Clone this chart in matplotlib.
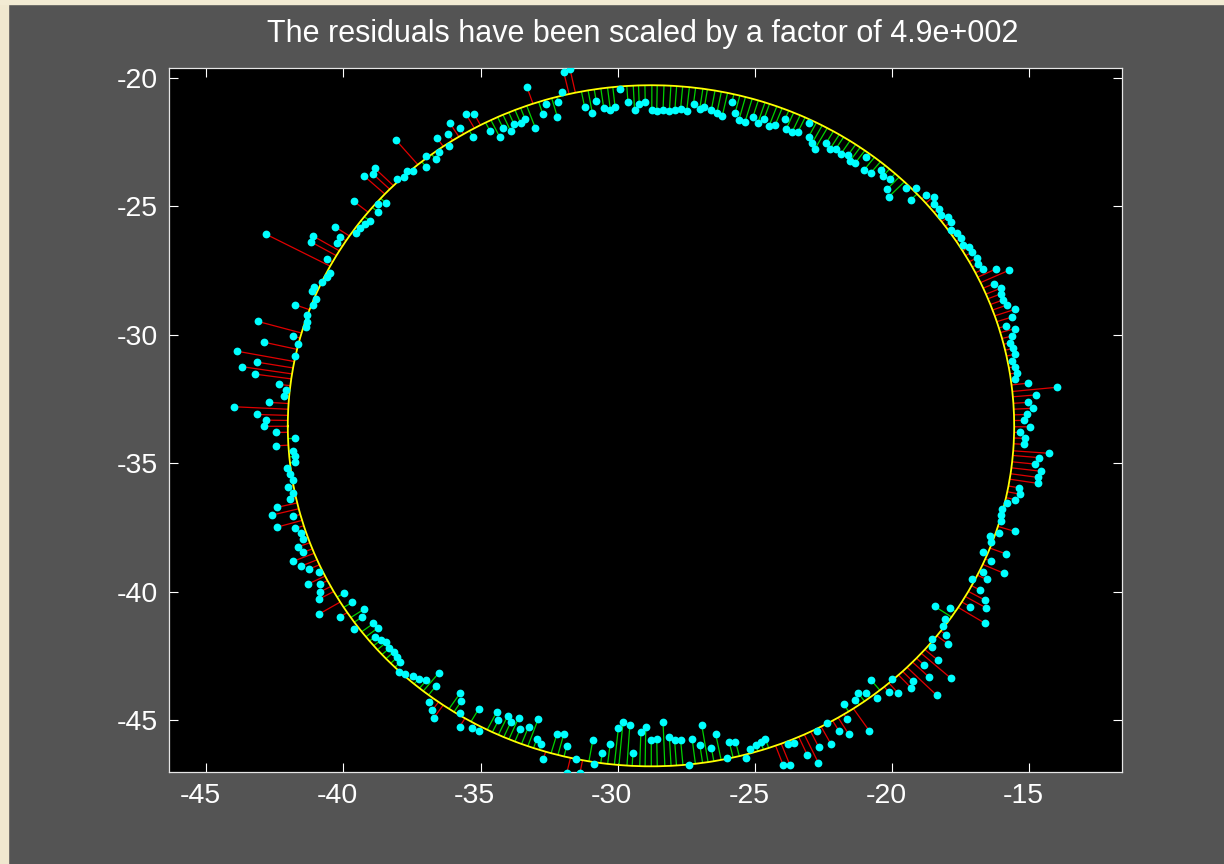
import matplotlib
matplotlib.use('Agg')
import matplotlib.pyplot as plt
import numpy as np
from matplotlib.collections import LineCollection
from matplotlib.patches import Rectangle
from matplotlib.transforms import ScaledTranslation

title = "The residuals have been scaled by a factor of 4.9e+002"
x_ticks = [-45, -40, -35, -30, -25, -20, -15]
y_ticks = [-20, -25, -30, -35, -40, -45]
x_limits = [-46.36, -11.62]
y_limits = [-47.02, -19.63]
ellipse_center = [-28.79, -33.55]
ellipse_axes = [13.24, 13.25]

pts_x = [
    -42.82, -41.12, -41.18, -40.31, -40.12, -40.24, -40.61, -40.49, -40.59, -40.77,
    -41.07, -41.15, -41.01, -41.12, -41.77, -39.62, -38.73, -38.45, -38.74, -39.03,
    -39.21, -39.39, -39.56, -39.26, -38.91, -38.86, -38.06, -37.79, -37.68, -37.46,
    -38.10, -36.99, -36.99, -36.64, -36.52, -36.58, -36.18, -36.17, -36.12, -35.76,
    -35.53, -35.23, -35.28, -34.66, -34.30, -34.19, -33.91, -33.78, -33.54, -33.38,
    -33.01, -33.31, -32.73, -32.62, -32.20, -32.17, -32.03, -31.97, -31.74, -31.21,
    -30.93, -30.79, -30.51, -30.27, -30.10, -29.93, -29.63, -29.39, -29.22, -29.00,
    -28.76, -28.58, -28.35, -28.12, -27.92, -27.71, -27.49, -27.24, -27.01, -26.84,
    -26.59, -26.39, -26.19, -25.84, -25.72, -25.59, -25.36, -25.08, -24.90, -24.67,
    -24.49, -24.26, -23.90, -23.86, -23.65, -23.44, -23.04, -23.04, -22.91, -22.81,
    -22.40, -22.26, -22.05, -21.86, -21.61, -21.53, -21.35, -20.96, -21.02, -20.77,
    -20.41, -20.32, -20.07, -20.19, -20.12, -19.48, -19.13, -19.32, -18.77, -18.49,
    -18.49, -18.30, -18.21, -17.97, -17.85, -17.84, -17.62, -17.48, -17.42, -17.21,
    -17.09, -16.92, -16.86, -16.67, -16.22, -15.74, -16.28, -16.04, -16.04, -15.97,
    -15.80, -15.52, -15.63, -15.86, -15.52, -15.64, -15.70, -15.58, -15.52, -15.64,
    -15.51, -15.44, -15.51, -15.05, -13.98, -14.76, -15.05, -14.87, -15.10, -15.21,
    -14.99, -15.33, -15.16, -15.21, -14.28, -14.63, -14.80, -14.57, -14.67, -14.69,
    -15.39, -15.33, -15.51, -15.80, -15.98, -16.04, -16.04, -15.52, -16.11, -16.45,
    -16.39, -16.68, -15.86, -16.39, -16.68, -15.92, -16.55, -17.09, -16.79, -16.62,
    -16.56, -17.15, -18.44, -17.90, -16.62, -18.08, -18.14, -18.02, -17.96, -18.55,
    -18.56, -18.32, -18.84, -17.85, -18.66, -19.25, -19.31, -18.38, -20.00, -20.77,
    -19.77, -20.12, -20.94, -21.23, -21.34, -20.54, -21.77, -21.64, -20.83, -22.38,
    -21.94, -21.58, -22.75, -22.22, -22.67, -23.09, -22.69, -23.56, -23.80, -23.97,
    -23.72, -24.62, -24.79, -24.97, -25.19, -25.32, -25.71, -25.94, -26.02, -26.43,
    -26.59, -26.94, -27.01, -27.29, -27.41, -27.71, -27.93, -28.12, -28.35, -28.58,
    -28.78, -28.98, -29.16, -29.45, -29.56, -29.81, -29.98, -30.28, -30.57, -30.87,
    -30.91, -31.38, -31.52, -31.86, -31.86, -31.97, -32.22, -32.72, -32.79, -32.95,
    -32.90, -33.25, -33.56, -33.61, -33.90, -34.01, -34.35, -34.41, -35.06, -35.30,
    -35.06, -35.76, -35.76, -35.70, -35.75, -36.52, -36.64, -36.70, -36.76, -36.87,
    -36.98, -37.26, -37.46, -37.74, -37.97, -37.93, -38.04, -38.16, -38.33, -38.44,
    -38.63, -38.85, -38.74, -38.91, -39.62, -39.32, -39.26, -40.13, -40.90, -39.68,
    -39.97, -40.90, -40.85, -40.85, -41.30, -40.90, -41.24, -41.54, -41.83, -41.47,
    -41.66, -41.47, -41.54, -41.77, -42.41, -41.83, -42.59, -42.41, -41.95, -41.83,
    -42.01, -41.83, -41.95, -42.07, -41.77, -41.78, -41.83, -42.47, -41.78, -42.47,
    -42.89, -42.82, -43.17, -43.99, -42.70, -42.17, -42.10, -42.35, -43.23, -43.70,
    -43.17, -41.77, -43.87, -42.89, -41.66, -41.83, -41.36, -41.32, -43.12, -41.32,
]

pts_y = [
    -26.10, -26.16, -26.40, -25.81, -26.21, -26.45, -27.05, -27.62, -27.77, -27.96,
    -28.14, -28.31, -28.62, -28.85, -28.84, -24.82, -24.93, -24.88, -25.23, -25.58,
    -25.70, -25.87, -26.05, -23.82, -23.77, -23.53, -23.95, -23.88, -23.64, -23.64,
    -22.42, -23.07, -23.47, -23.18, -22.90, -22.37, -22.20, -22.67, -21.78, -21.96,
    -21.43, -21.43, -22.30, -22.07, -22.32, -21.95, -22.07, -21.82, -21.78, -21.61,
    -21.95, -20.38, -21.43, -21.03, -21.54, -20.96, -20.56, -19.80, -19.68, -21.14,
    -21.37, -20.90, -21.20, -21.26, -21.14, -20.44, -20.96, -21.26, -21.02, -20.96,
    -21.26, -21.30, -21.26, -21.32, -21.26, -21.21, -21.32, -21.02, -21.21, -21.14,
    -21.26, -21.39, -21.49, -20.96, -21.37, -21.67, -21.72, -21.55, -21.78, -21.61,
    -21.90, -21.84, -21.61, -22.00, -22.13, -22.13, -21.78, -22.30, -22.54, -22.77,
    -22.54, -22.77, -22.77, -22.96, -23.02, -23.24, -23.33, -23.11, -23.59, -23.70,
    -23.60, -23.82, -23.94, -24.35, -24.64, -24.29, -24.29, -24.75, -24.58, -24.64,
    -24.93, -25.11, -25.35, -25.44, -25.63, -25.93, -26.04, -26.26, -26.51, -26.61,
    -26.80, -27.02, -27.26, -27.45, -27.45, -27.50, -28.02, -28.20, -28.42, -28.66,
    -28.85, -29.02, -29.32, -29.67, -29.77, -30.06, -30.32, -30.54, -30.77, -31.02,
    -31.25, -31.49, -31.72, -31.89, -32.05, -32.35, -32.64, -32.87, -33.11, -33.34,
    -33.59, -33.81, -34.04, -34.27, -34.62, -34.79, -35.04, -35.32, -35.56, -35.79,
    -35.96, -36.21, -36.42, -36.55, -36.79, -37.02, -37.26, -37.66, -37.71, -37.84,
    -38.09, -38.47, -38.53, -38.82, -39.23, -39.29, -39.53, -39.53, -39.94, -40.33,
    -40.64, -40.59, -40.58, -40.64, -41.23, -41.08, -41.34, -41.69, -42.04, -41.86,
    -42.16, -42.68, -42.85, -43.38, -43.32, -43.49, -43.74, -44.03, -43.39, -43.44,
    -43.96, -43.91, -43.96, -43.96, -44.21, -44.14, -44.38, -44.96, -45.42, -45.13,
    -45.42, -45.55, -45.42, -45.95, -46.06, -46.36, -46.66, -45.90, -45.95, -46.76,
    -46.76, -45.73, -45.84, -45.96, -46.13, -46.48, -45.84, -45.84, -46.48, -45.55,
    -46.08, -45.19, -45.96, -45.73, -46.76, -45.78, -45.78, -45.66, -45.08, -45.73,
    -45.78, -45.26, -45.48, -46.30, -45.18, -45.08, -45.31, -45.95, -46.30, -46.71,
    -45.78, -47.06, -46.53, -47.06, -46.01, -45.55, -45.55, -46.53, -45.95, -45.73,
    -44.96, -45.25, -45.36, -44.90, -45.08, -44.83, -45.01, -44.68, -45.43, -45.32,
    -44.55, -45.25, -44.72, -44.26, -43.96, -43.16, -43.69, -44.90, -44.61, -44.31,
    -43.46, -43.40, -43.28, -43.21, -43.14, -42.75, -42.56, -42.34, -42.21, -41.98,
    -41.88, -41.76, -41.41, -41.24, -41.46, -40.99, -40.69, -40.99, -40.88, -40.42,
    -40.06, -40.30, -40.01, -39.71, -39.71, -39.24, -39.12, -39.01, -38.82, -38.47,
    -38.26, -37.96, -37.72, -37.54, -37.49, -37.07, -37.02, -36.72, -36.39, -36.15,
    -35.92, -35.67, -35.43, -35.21, -34.97, -34.74, -34.52, -34.33, -34.04, -33.81,
    -33.57, -33.33, -33.11, -32.81, -32.64, -32.40, -32.17, -31.94, -31.54, -31.25,
    -31.07, -30.84, -30.65, -30.30, -30.37, -30.07, -29.72, -29.50, -29.49, -29.24,
]

# ---- derived geometry: foot of each point on the fitted ellipse ----
px = np.asarray(pts_x)
py = np.asarray(pts_y)
cx, cy = ellipse_center
a, b = ellipse_axes
u = (px - cx) / a
v = (py - cy) / b
theta = np.arctan2(v, u)
fx = cx + a * np.cos(theta)
fy = cy + b * np.sin(theta)
outside = (u ** 2 + v ** 2) > 1.0

fig = plt.figure(figsize=(12.24, 8.64), dpi=100, facecolor='#545454')
# window border strips of the screenshot
fig.add_artist(Rectangle((0, 0), 8 / 1224, 1, transform=fig.transFigure,
                         color='#f0e8cf', zorder=0))
fig.add_artist(Rectangle((0, 1 - 4 / 864), 1, 4 / 864, transform=fig.transFigure,
                         color='#f2ebd3', zorder=0))

ax = fig.add_axes([169 / 1224, 1 - 772 / 864, (1122 - 169) / 1224, (772 - 68) / 864])
ax.set_facecolor('black')

seg_out = [[(px[i], py[i]), (fx[i], fy[i])] for i in range(len(px)) if outside[i]]
seg_in = [[(px[i], py[i]), (fx[i], fy[i])] for i in range(len(px)) if not outside[i]]
ax.add_collection(LineCollection(seg_out, colors='#e00000', linewidths=0.9, zorder=2))
ax.add_collection(LineCollection(seg_in, colors='#00d000', linewidths=0.9, zorder=2))

order = np.argsort(theta)
ex = np.append(fx[order], fx[order][0])
ey = np.append(fy[order], fy[order][0])
ax.plot(ex, ey, color='#ffff00', lw=1.3, zorder=3)

ax.plot(px, py, 'o', color='#00ffff', ms=5.6, mew=0, zorder=4)

ax.set_xlim(x_limits)
ax.set_ylim(y_limits)
ax.set_xticks(x_ticks)
ax.set_yticks(y_ticks)
ax.set_xticklabels([str(t) for t in x_ticks], family='Liberation Sans')
ax.set_yticklabels([str(t) for t in y_ticks], family='Liberation Sans')
ax.tick_params(direction='in', length=6.5, width=0.8, colors='white',
               top=True, right=True, labelsize=20.5, pad=8)
shift = ScaledTranslation(-6 / 100, 0, fig.dpi_scale_trans)
for lab in ax.get_xticklabels():
    lab.set_transform(lab.get_transform() + shift)
for s in ax.spines.values():
    s.set_color('#e6e6e6')
    s.set_linewidth(0.9)

ttl = ax.set_title(title, color='white', fontsize=22, pad=18.5, family='Liberation Sans')
ttl.set_transform(ttl.get_transform() + ScaledTranslation(-3 / 100, 0, fig.dpi_scale_trans))

fig.savefig('out.png', dpi=100, facecolor=fig.get_facecolor())
